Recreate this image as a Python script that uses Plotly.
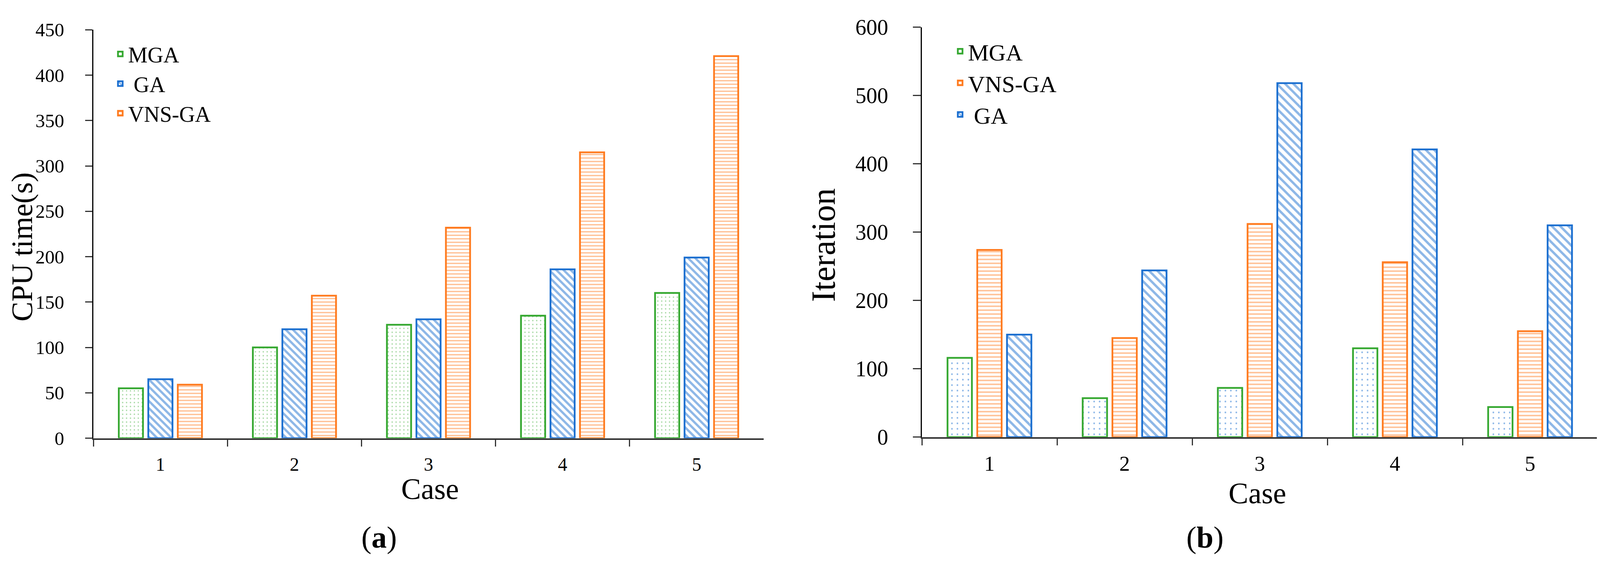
import plotly.graph_objects as go

# ---------------- data ----------------
cases = ["1", "2", "3", "4", "5"]

cpu_mga = [55, 100, 125, 135, 160]
cpu_ga = [65, 120, 131, 186, 199]
cpu_vns = [59, 157, 232, 315, 421]

iter_mga = [116, 57, 72, 130, 44]
iter_vns = [274, 145, 312, 256, 155]
iter_ga = [150, 244, 518, 421, 310]

cpu_ticks = [0, 50, 100, 150, 200, 250, 300, 350, 400, 450]
iter_ticks = [0, 100, 200, 300, 400, 500, 600]

GREEN = "#35a830"
BLUE = "#1b6fd0"
ORANGE = "#ff7b1f"
FONT = "Liberation Serif"

W, H = 4097, 1450


def px_x(p):
    return p / W


def px_y(p):
    return 1 - p / H


def bar(name, x, y, color, shape, size, solid, fg, xa, ya, legend):
    return go.Bar(
        name=name, x=x, y=y, xaxis=xa, yaxis=ya, legend=legend,
        marker=dict(
            color="white",
            line=dict(color=color, width=4.5),
            pattern=dict(shape=shape, fgcolor=fg, bgcolor="white",
                         size=size, solidity=solid, fillmode="overlay"),
        ),
    )


fig = go.Figure()

# ---- (a) CPU time ----
fig.add_trace(bar("MGA", cases, cpu_mga, GREEN, ".", 10, 0.1, GREEN, "x", "y", "legend"))
fig.add_trace(bar(" GA", cases, cpu_ga, BLUE, "\\", 13, 0.45, BLUE, "x", "y", "legend"))
fig.add_trace(bar("VNS-GA", cases, cpu_vns, ORANGE, "-", 9, 0.35, ORANGE, "x", "y", "legend"))

# ---- (b) iterations ----
fig.add_trace(bar("MGA", cases, iter_mga, GREEN, ".", 14, 0.08, BLUE, "x2", "y2", "legend2"))
fig.add_trace(bar("VNS-GA", cases, iter_vns, ORANGE, "-", 10, 0.35, ORANGE, "x2", "y2", "legend2"))
fig.add_trace(bar(" GA", cases, iter_ga, BLUE, "\\", 15, 0.4, BLUE, "x2", "y2", "legend2"))

xcommon = dict(
    type="category", showline=True, linecolor="#333333", linewidth=4,
    ticks="outside", tickson="boundaries", ticklen=17, tickwidth=3,
    tickcolor="#333333", showgrid=False, zeroline=False,
)
ycommon = dict(
    showline=True, linecolor="black", linewidth=3, ticks="outside",
    ticklen=18, tickwidth=3, tickcolor="#333333", showgrid=False,
    zeroline=False,
)

fig.update_layout(
    width=W, height=H,
    paper_bgcolor="white", plot_bgcolor="white",
    margin=dict(l=0, r=0, t=0, b=0),
    barmode="group", bargap=0.34, bargroupgap=0.18,
    font=dict(family=FONT, color="black"),
    xaxis=dict(xcommon, domain=[px_x(231), px_x(1947)], anchor="y",
               tickfont=dict(size=48), ticklabelstandoff=22),
    yaxis=dict(ycommon, domain=[px_y(1133), px_y(40)], anchor="x",
               range=[0, 450], tickvals=cpu_ticks,
               tickfont=dict(size=49), ticklabelstandoff=44),
    xaxis2=dict(xcommon, domain=[px_x(2352), px_x(4082)], anchor="y2",
                tickfont=dict(size=54), ticklabelstandoff=18),
    yaxis2=dict(ycommon, domain=[px_y(1130), px_y(33)], anchor="x2",
                range=[0, 600], tickvals=iter_ticks, ticklen=20,
                tickfont=dict(size=56), ticklabelstandoff=52),
    legend=dict(x=px_x(280), y=px_y(60), xanchor="left", yanchor="top",
                font=dict(size=56), bgcolor="rgba(0,0,0,0)", traceorder="normal"),
    legend2=dict(x=px_x(2430), y=px_y(50), xanchor="left", yanchor="top",
                 font=dict(size=60), bgcolor="rgba(0,0,0,0)", traceorder="normal"),
    showlegend=True,
)

# axis titles and panel labels
notes = [
    ("CPU time(s)", 48, 621, 76, -90),
    ("Iteration", 2100, 617, 86, -90),
    ("Case", 1093, 1268, 76, 0),
    ("Case", 3211, 1280, 76, 0),
    ("(<b>a</b>)", 962, 1398, 78, 0),
    ("(<b>b</b>)", 3076, 1398, 78, 0),
]
for text, x, y, size, angle in notes:
    fig.add_annotation(
        text=text, xref="paper", yref="paper", x=px_x(x), y=px_y(y),
        xanchor="center", yanchor="middle", showarrow=False,
        textangle=angle, font=dict(size=size, family=FONT, color="black"),
    )

fig.write_html("out.html")
